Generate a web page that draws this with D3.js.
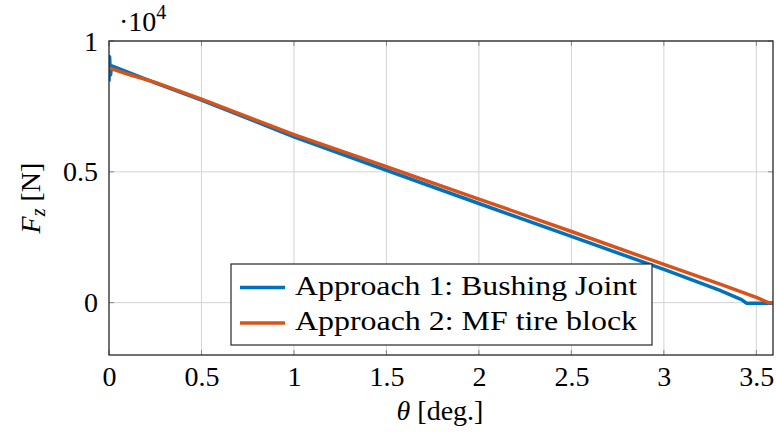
<!DOCTYPE html>
<html>
<head>
<meta charset="utf-8">
<script src="https://cdn.jsdelivr.net/npm/d3@7"></script>
<style>
  html, body { margin: 0; padding: 0; background: #fff; }
  svg { display: block; }
</style>
</head>
<body>
<svg id="chart" width="776" height="432"></svg>
<script>
// Vertical tyre force against steering angle for the two modelling approaches
const thetaBushing = [0, 0.003, 0.008, 0.015, 0.25, 0.5, 1.0, 1.5, 2.0, 2.5, 3.0, 3.3, 3.42, 3.446, 3.6];
const fzBushing    = [8450, 9400, 8700, 9050, 8400, 7740, 6340, 5060, 3790, 2530, 1270, 480, 120, -20, -20];

const thetaMF = [0, 0.1, 0.25, 0.5, 1.0, 1.5, 2.0, 2.5, 3.0, 3.3, 3.5, 3.565, 3.6];
const fzMF    = [8970, 8740, 8420, 7780, 6420, 5200, 3960, 2720, 1460, 720, 200, 0, 0];

const xTicks = [0, 0.5, 1, 1.5, 2, 2.5, 3, 3.5];
const yTicks = [0, 5000, 10000];
const yTickLabels = ["0", "0.5", "1"];
const seriesNames = ["Approach 1: Bushing Joint", "Approach 2: MF tire block"];
const seriesColors = ["#0072BD", "#D95319"];

const FONT = "'Liberation Serif', 'Times New Roman', Times, serif";
const FS = "28px";

const svg = d3.select("#chart").style("font-family", FONT);
const plot = { left: 109, top: 41, right: 773, bottom: 355 };

const x = d3.scaleLinear().domain([0, 3.59]).range([plot.left, plot.right]);
const y = d3.scaleLinear().domain([-2000, 10000]).range([plot.bottom, plot.top]);

// grid
const grid = svg.append("g").attr("stroke", "#d4d4d4").attr("stroke-width", 1);
grid.selectAll("line.vx").data(xTicks.slice(1)).join("line")
  .attr("x1", d => x(d)).attr("x2", d => x(d))
  .attr("y1", plot.top).attr("y2", plot.bottom);
grid.selectAll("line.hy").data(yTicks).join("line")
  .attr("x1", plot.left).attr("x2", plot.right)
  .attr("y1", d => y(d)).attr("y2", d => y(d));

// inward tick marks on all four sides
const tickLen = 5;
const ticks = svg.append("g").attr("stroke", "#888").attr("stroke-width", 1);
xTicks.forEach(t => {
  ticks.append("line").attr("x1", x(t)).attr("x2", x(t)).attr("y1", plot.bottom).attr("y2", plot.bottom - tickLen);
  ticks.append("line").attr("x1", x(t)).attr("x2", x(t)).attr("y1", plot.top).attr("y2", plot.top + tickLen);
});
yTicks.forEach(t => {
  ticks.append("line").attr("x1", plot.left).attr("x2", plot.left + tickLen).attr("y1", y(t)).attr("y2", y(t));
  ticks.append("line").attr("x1", plot.right).attr("x2", plot.right - tickLen).attr("y1", y(t)).attr("y2", y(t));
});

// axes with tick labels
const xAxis = d3.axisBottom(x).tickValues(xTicks).tickSize(0).tickPadding(14)
  .tickFormat(d => String(d));
const gx = svg.append("g").attr("transform", `translate(0,${plot.bottom})`).call(xAxis)
  .attr("font-family", null).attr("font-size", null);
gx.select(".domain").remove();
gx.selectAll("text").style("font-family", FONT).style("font-size", FS).attr("fill", "#000")
  .attr("y", 31).attr("dy", 0);

const yAxis = d3.axisLeft(y).tickValues(yTicks).tickSize(0).tickPadding(11)
  .tickFormat((d, i) => yTickLabels[i]);
const gy = svg.append("g").attr("transform", `translate(${plot.left},0)`).call(yAxis)
  .attr("font-family", null).attr("font-size", null);
gy.select(".domain").remove();
gy.selectAll("text").style("font-family", FONT).style("font-size", FS).attr("fill", "#000")
  .attr("dy", 9);

// data lines
const line = d3.line().x(d => x(d[0])).y(d => y(d[1]));
const series = [
  d3.zip(thetaBushing, fzBushing),
  d3.zip(thetaMF, fzMF)
];
svg.append("clipPath").attr("id", "clip").append("rect")
  .attr("x", plot.left).attr("y", plot.top)
  .attr("width", plot.right - plot.left).attr("height", plot.bottom - plot.top);
svg.append("g").attr("clip-path", "url(#clip)")
  .selectAll("path").data(series).join("path")
  .attr("d", line)
  .attr("fill", "none")
  .attr("stroke", (d, i) => seriesColors[i])
  .attr("stroke-width", 3.5)
  .attr("stroke-linejoin", "round");

// frame
svg.append("rect")
  .attr("x", plot.left).attr("y", plot.top)
  .attr("width", plot.right - plot.left).attr("height", plot.bottom - plot.top)
  .attr("fill", "none").attr("stroke", "#262626").attr("stroke-width", 1.3);

// scale factor label
const mult = svg.append("text").attr("x", 119).attr("y", 31).style("font-size", FS);
mult.append("tspan").text("·10");
mult.append("tspan").attr("dy", -12).style("font-size", "20px").text("4");

// axis titles
const xl = svg.append("text").attr("x", 440).attr("y", 420).attr("text-anchor", "middle").style("font-size", FS);
xl.append("tspan").style("font-style", "italic").text("θ");
xl.append("tspan").text(" [deg.]");

const yl = svg.append("text").attr("transform", "translate(40,198) rotate(-90)")
  .attr("text-anchor", "middle").style("font-size", FS);
yl.append("tspan").style("font-style", "italic").text("F");
yl.append("tspan").style("font-style", "italic").style("font-size", "20px").attr("dy", 5).text("z");
yl.append("tspan").attr("dy", -5).text(" [N]");

// legend
const lg = svg.append("g");
lg.append("rect").attr("x", 231).attr("y", 264).attr("width", 421).attr("height", 81)
  .attr("fill", "#fff").attr("stroke", "#262626").attr("stroke-width", 1.2);
seriesNames.forEach((name, i) => {
  const cy = 287.5 + i * 35.5;
  lg.append("line").attr("x1", 240).attr("x2", 285).attr("y1", cy).attr("y2", cy)
    .attr("stroke", seriesColors[i]).attr("stroke-width", 3.5);
  lg.append("text").attr("x", 295).attr("y", cy + 7).style("font-size", FS)
    .attr("textLength", 342).attr("lengthAdjust", "spacingAndGlyphs").text(name);
});
</script>
</body>
</html>
